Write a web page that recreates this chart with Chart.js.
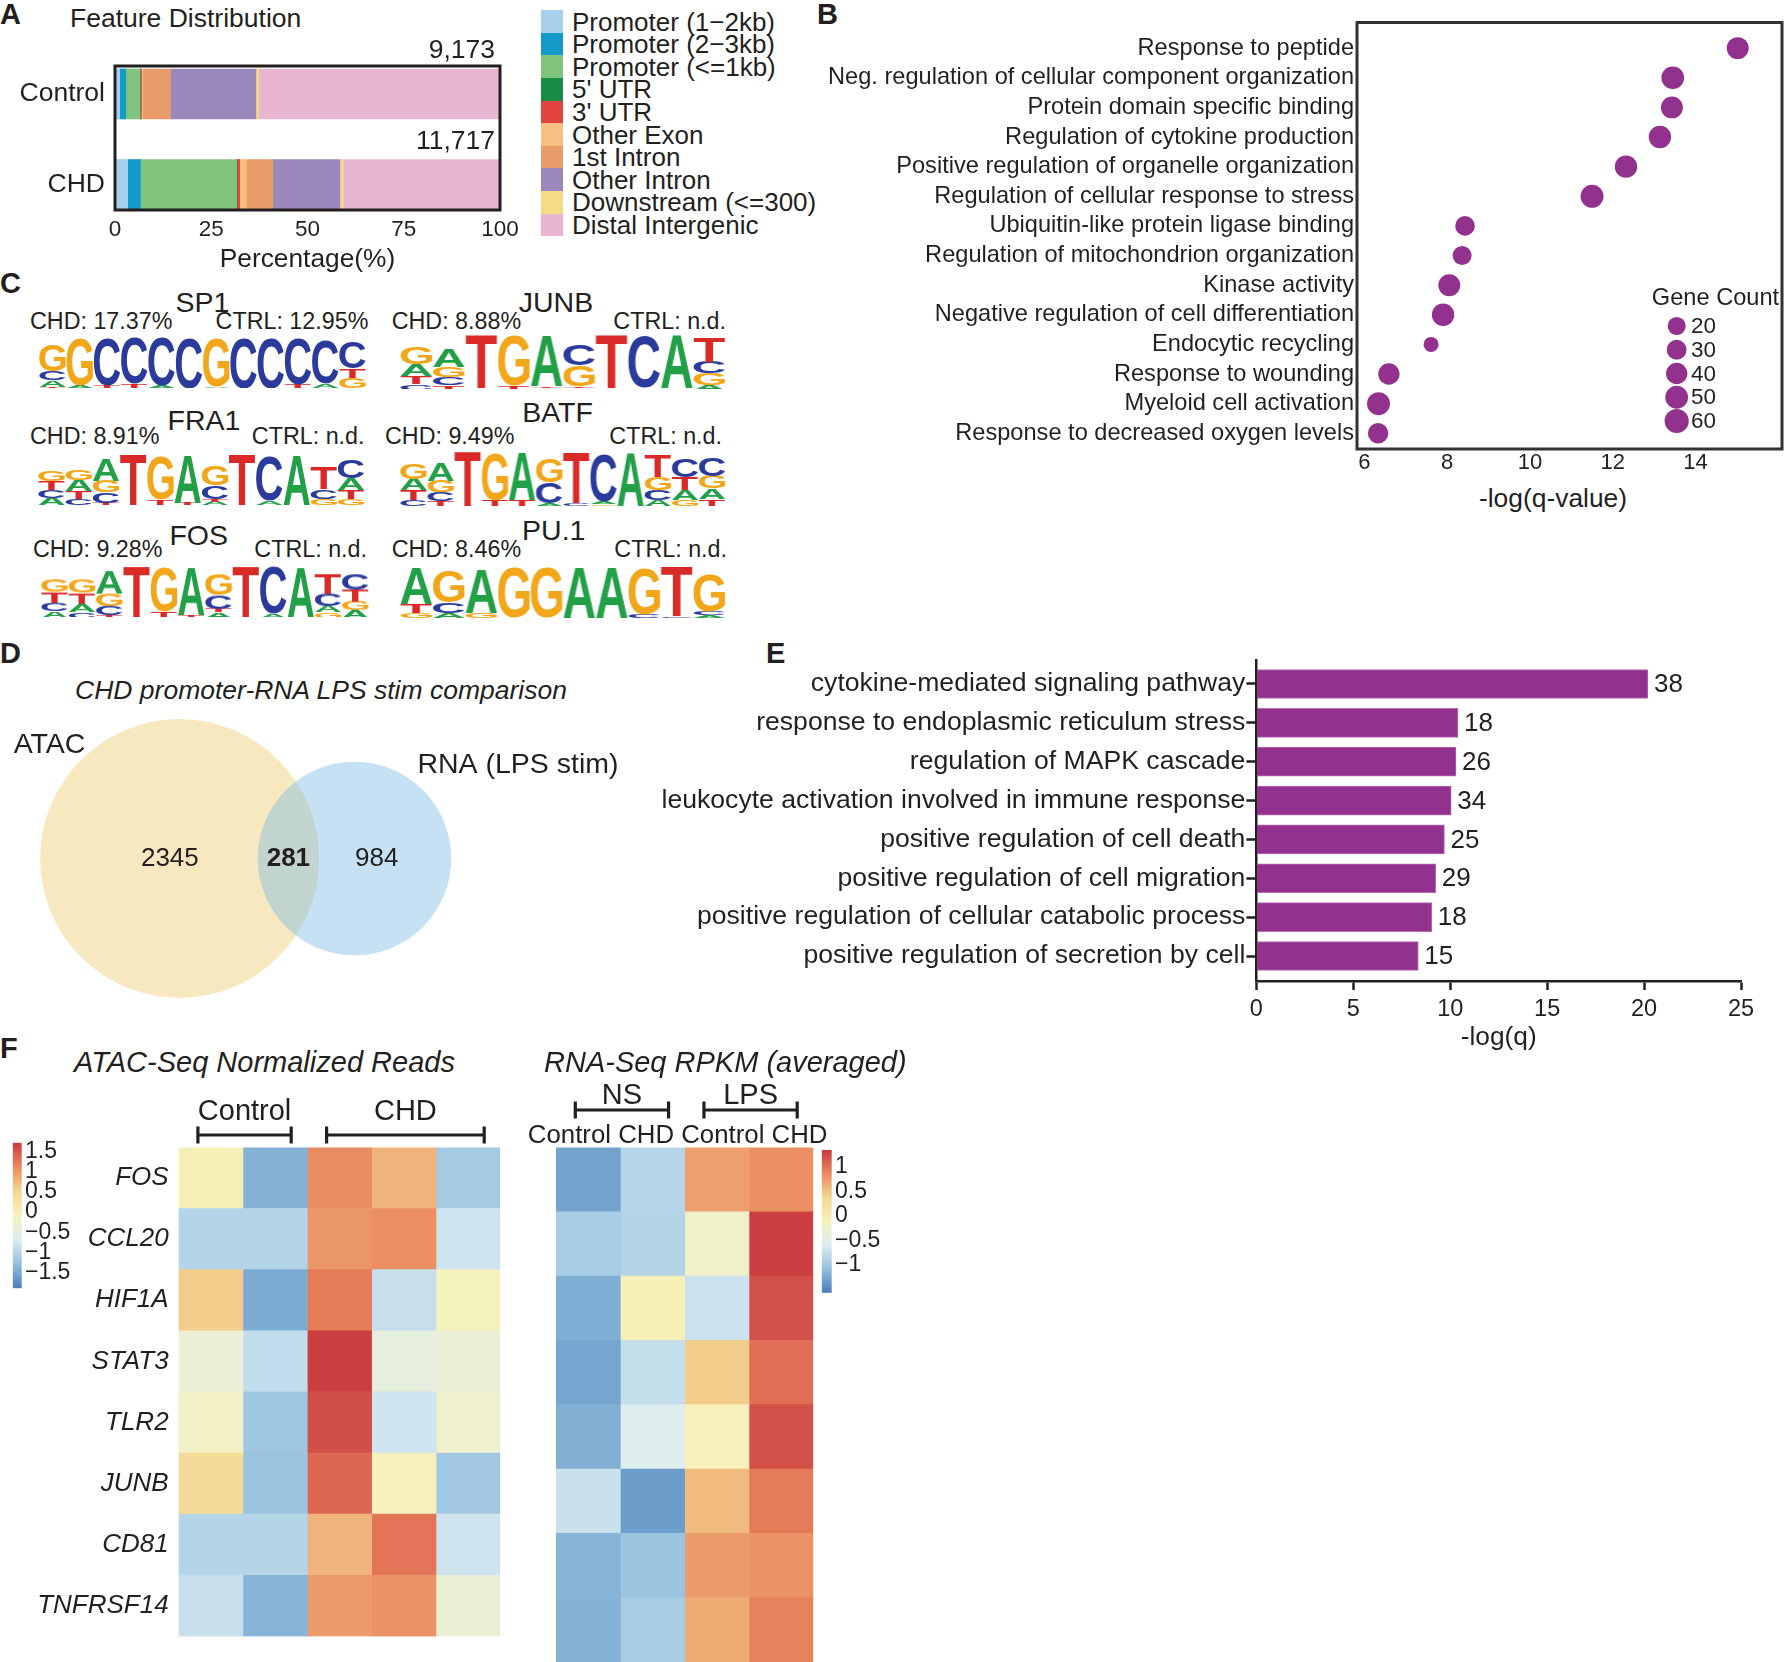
<!DOCTYPE html>
<html><head><meta charset="utf-8">
<script src="https://cdn.jsdelivr.net/npm/chart.js@4.4.1/dist/chart.umd.min.js"></script>
<style>
html,body{margin:0;padding:0;background:#fff;}
#root{position:relative;width:1784px;height:1662px;overflow:hidden;background:#fff;font-family:"Liberation Sans",Arial,Helvetica,sans-serif;color:#231f20;}
.t{position:absolute;white-space:nowrap;line-height:1;}
.box{position:absolute;}
.box canvas{display:block;}
.sw{position:absolute;}
</style></head>
<body><div id="root"></div>
<script>
// ================= DATA =================
// Panel A - feature distribution (percent of peaks)
const featureCategories = ['Promoter (1\u22122kb)','Promoter (2\u22123kb)','Promoter (<=1kb)',"5' UTR","3' UTR",'Other Exon','1st Intron','Other Intron','Downstream (<=300)','Distal Intergenic'];
const featureSamples = ['Control','CHD'];
const featureControl = [1.2,1.6,3.7,0.1,0.3,0.3,7.2,22.2,0.7,62.7];
const featureCHD = [3.3,3.3,25.0,0.1,0.7,1.7,6.9,17.4,0.9,40.7];
const featurePeakTotals = [9173,11717];
const featureTicks = [0,25,50,75,100];

// Panel B - GO enrichment dot plot
const goTerms = ['Response to peptide','Neg. regulation of cellular component organization','Protein domain specific binding','Regulation of cytokine production','Positive regulation of organelle organization','Regulation of cellular response to stress','Ubiquitin-like protein ligase binding','Regulation of mitochondrion organization','Kinase activity','Negative regulation of cell differentiation','Endocytic recycling','Response to wounding','Myeloid cell activation','Response to decreased oxygen levels'];
const goNegLogQ = [15.02,13.45,13.43,13.14,12.32,11.50,8.43,8.36,8.05,7.90,7.61,6.59,6.34,6.33];
const goGeneCount = [44,49,44,47,47,51,29,25,44,47,4,40,51,34];
const goTicks = [6,8,10,12,14];
const geneCountBreaks = [20,30,40,50,60];

// Panel C - motifs (letter stacks bottom->top, relative heights)
const motifNames = ['SP1','JUNB','FRA1','BATF','FOS','PU.1'];
const motifCHD = ['17.37%','8.88%','8.91%','9.49%','9.28%','8.46%'];
const motifCTRL = ['12.95%','n.d.','n.d.','n.d.','n.d.','n.d.'];
const logoSP1 = [
 [['T',0.03],['A',0.12],['C',0.16],['G',0.5]], [['A',0.04],['G',0.9]], [['T',0.05],['C',0.9]], [['T',0.08],['C',0.87]],
 [['A',0.04],['C',0.91]], [['C',0.95]], [['A',0.03],['G',0.92]], [['C',0.95]], [['C',0.95]], [['T',0.07],['C',0.86]],
 [['A',0.08],['C',0.82]], [['G',0.2],['T',0.17],['C',0.5]]];
const logoJUNB = [
 [['C',0.1],['T',0.14],['A',0.2],['G',0.3]], [['T',0.07],['C',0.14],['G',0.18],['A',0.32]], [['A',0.02],['T',0.93]],
 [['T',0.06],['G',0.86]], [['C',0.03],['T',0.03],['A',0.88]], [['A',0.03],['T',0.03],['G',0.36],['C',0.36]],
 [['A',0.03],['T',0.92]], [['A',0.03],['C',0.9]], [['C',0.02],['A',0.92]], [['A',0.08],['G',0.2],['C',0.2],['T',0.42]]];
const logoFRA1 = [
 [['A',0.14],['C',0.14],['T',0.18],['G',0.2]], [['C',0.12],['T',0.14],['A',0.22],['G',0.2]], [['T',0.04],['C',0.2],['G',0.22],['A',0.42]],
 [['T',0.95]], [['T',0.1],['G',0.82]], [['T',0.04],['A',0.9]], [['A',0.07],['T',0.05],['C',0.25],['G',0.38]], [['T',0.95]],
 [['A',0.08],['C',0.85]], [['A',0.93]], [['G',0.12],['C',0.18],['T',0.4]], [['G',0.12],['T',0.17],['A',0.22],['C',0.35]]];
const logoBATF = [
 [['C',0.1],['T',0.17],['A',0.2],['G',0.28]], [['T',0.08],['C',0.15],['G',0.2],['A',0.32]], [['T',0.95]], [['T',0.1],['G',0.82]],
 [['T',0.1],['A',0.82]], [['A',0.05],['C',0.35],['G',0.4]], [['C',0.05],['T',0.88]], [['G',0.03],['A',0.05],['C',0.82]],
 [['A',0.92]], [['A',0.1],['C',0.18],['G',0.22],['T',0.38]], [['G',0.1],['A',0.18],['T',0.22],['C',0.32]], [['T',0.12],['A',0.18],['G',0.22],['C',0.32]]];
const logoFOS = [
 [['A',0.12],['C',0.15],['T',0.2],['G',0.22]], [['C',0.1],['A',0.15],['T',0.2],['G',0.25]], [['T',0.05],['C',0.17],['G',0.22],['A',0.4]],
 [['T',0.95]], [['T',0.12],['G',0.8]], [['T',0.05],['A',0.88]], [['A',0.1],['T',0.06],['C',0.25],['G',0.38]], [['T',0.95]],
 [['A',0.07],['C',0.86]], [['A',0.92]], [['G',0.1],['A',0.12],['C',0.22],['T',0.35]], [['A',0.14],['G',0.16],['T',0.22],['C',0.3]]];
const logoPU1 = [
 [['G',0.1],['T',0.17],['A',0.68]], [['A',0.1],['C',0.2],['G',0.6]], [['G',0.1],['A',0.82]], [['G',0.95]], [['G',0.95]],
 [['A',0.95]], [['A',0.95]], [['C',0.06],['G',0.88]], [['C',0.03],['T',0.92]], [['A',0.05],['C',0.08],['G',0.7]]];

// Panel D - Venn
const vennSets = ['ATAC','RNA (LPS stim)'];
const vennOnly = [2345, 984];
const vennShared = 281;

// Panel E - enrichment bars
const enrichTerms = ['cytokine-mediated signaling pathway','response to endoplasmic reticulum stress','regulation of MAPK cascade','leukocyte activation involved in immune response','positive regulation of cell death','positive regulation of cell migration','positive regulation of cellular catabolic process','positive regulation of secretion by cell'];
const enrichNegLogQ = [20.2,10.4,10.3,10.05,9.7,9.25,9.05,8.35];
const enrichCounts = [38,18,26,34,25,29,18,15];
const enrichTicks = [0,5,10,15,20,25];

// Panel F - heatmaps (row z-scores)
const heatGenes = ['FOS','CCL20','HIF1A','STAT3','TLR2','JUNB','CD81','TNFRSF14'];
const atacControl1 = [0.0,-1.02,0.6,-0.37,-0.18,0.44,-1.02,-0.86];
const atacControl2 = [-1.41,-1.02,-1.47,-0.91,-1.19,-1.23,-1.02,-1.39];
const atacCHD1 = [1.1,1.02,1.22,1.67,1.55,1.37,0.8,0.99];
const atacCHD2 = [0.8,1.09,-0.86,-0.45,-0.8,-0.07,1.27,1.05];
const atacCHD3 = [-1.14,-0.81,-0.1,-0.37,-0.28,-1.16,-0.81,-0.35];
const atacGroupLabels = ['Control','CHD'];
const atacGroupSpans = [[0,1],[2,4]];
const atacScaleRange = [-1.89,1.72];
const atacLegendTicks = [-1.5,-1,-0.5,0,0.5,1,1.5];
const rnaNSControl = [-1.28,-0.94,-1.21,-1.27,-1.19,-0.72,-1.16,-1.17];
const rnaNSCHD = [-0.845,-0.86,-0.05,-0.75,-0.55,-1.33,-1.03,-0.94];
const rnaLPSControl = [0.72,-0.22,-0.7,0.45,-0.08,0.55,0.75,0.64];
const rnaLPSCHD = [0.82,1.3,1.2,1.01,1.2,0.94,0.8,0.9];
const rnaGroupLabels = ['NS','LPS'];
const rnaGroupSpans = [[0,1],[2,3]];
const rnaSampleLabels = ['Control','CHD','Control','CHD'];
const rnaScaleRange = [-1.56,1.34];
const rnaLegendTicks = [-1,-0.5,0,0.5,1];

// ================= STYLE =================
const INK = '#231f20';
const PURPLE = '#93318e';
const FONT = '"Liberation Sans", Arial, Helvetica, sans-serif';
const featureColors = ['#a6d0ec','#139ac8','#80c47e','#188c45','#e2433f','#f7bf80','#e99c69','#9a88bc','#f5db86','#e9b6d1'];
const letterColors = {A:'#21a047', C:'#2b3b9c', G:'#f2a71b', T:'#da2a27'};
const heatPalette = ['#4a7db9','#93c0de','#dcecf2','#f6f2bd','#f5d893','#ea8a5f','#c9383e'];

Chart.defaults.font.family = FONT;
Chart.defaults.color = INK;
Chart.defaults.animation = false;
Chart.defaults.responsive = true;
Chart.defaults.maintainAspectRatio = false;
Chart.defaults.events = [];
Chart.defaults.plugins.legend.display = false;
Chart.defaults.plugins.tooltip.enabled = false;

const root = document.getElementById('root');
function txt(s, x, y, size, align, extra) {
  const d = document.createElement('div');
  d.className = 't'; d.textContent = s;
  const tx = align === 'right' ? '-100%' : align === 'center' ? '-50%' : '0';
  d.style.cssText = `left:${x}px;top:${y}px;font-size:${size}px;transform:translate(${tx},-50%);${extra || ''}`;
  root.appendChild(d); return d;
}
function box(left, top, w, h) {
  const d = document.createElement('div');
  d.className = 'box';
  d.style.cssText = `left:${left}px;top:${top}px;width:${w}px;height:${h}px;`;
  const c = document.createElement('canvas');
  d.appendChild(c); root.appendChild(d); return c;
}
// fixed axis sizes (no automatic label padding)
const fixW = w => s => { s.width = w; s.paddingTop = 0; s.paddingBottom = 0; };
const fixH = h => s => { s.height = h; s.paddingLeft = 0; s.paddingRight = 0; };
function hexRgb(h) { const n = parseInt(h.slice(1), 16); return [(n >> 16) & 255, (n >> 8) & 255, n & 255]; }
function heatColor(v, range) {
  let t = (v - range[0]) / (range[1] - range[0]);
  t = Math.max(0, Math.min(1, t));
  const p = t * (heatPalette.length - 1), i = Math.min(Math.floor(p), heatPalette.length - 2), f = p - i;
  const a = hexRgb(heatPalette[i]), b = hexRgb(heatPalette[i + 1]);
  return `rgb(${a.map((c, k) => Math.round(c + (b[k] - c) * f)).join(',')})`;
}
const minus = v => (v < 0 ? '\u2212' + Math.abs(v) : String(v));
const sizeScale = c => Math.sqrt(50 + 1.6 * c);

// ================= PLUGINS =================
const framePlugin = { id: 'frame', afterDraw(chart, a, o) {
  const { ctx, chartArea: r } = chart; ctx.save(); ctx.strokeStyle = o.color || INK; ctx.lineWidth = o.width || 3;
  ctx.strokeRect(r.left, r.top, r.right - r.left, r.bottom - r.top); ctx.restore(); } };

const totalsPlugin = { id: 'totals', afterDatasetsDraw(chart) {
  const { ctx } = chart; const xs = chart.scales.x; const last = chart.getDatasetMeta(chart.data.datasets.length - 1);
  ctx.save(); ctx.font = `26.5px ${FONT}`; ctx.fillStyle = INK; ctx.textAlign = 'right'; ctx.textBaseline = 'middle';
  last.data.forEach((bar, i) => {
    const top = bar.y - bar.height / 2;
    ctx.fillText(featurePeakTotals[i].toLocaleString('en-US'), xs.getPixelForValue(100) - 5, top - 18);
  });
  ctx.restore(); } };

const geneCountLegend = { id: 'gcLegend', afterDraw(chart) {
  const { ctx, chartArea: a } = chart; const W = a.right - a.left, H = a.bottom - a.top;
  ctx.save(); ctx.fillStyle = INK; ctx.font = `23.6px ${FONT}`; ctx.textAlign = 'center'; ctx.textBaseline = 'middle';
  ctx.fillText('Gene Count', a.left + 0.8435 * W, a.top + 0.6467 * H);
  ctx.font = `22.5px ${FONT}`; ctx.textAlign = 'left';
  geneCountBreaks.forEach((b, i) => {
    const cy = a.top + 0.7116 * H + i * 23.75, cx = a.left + 0.7522 * W;
    ctx.fillStyle = PURPLE; ctx.beginPath(); ctx.arc(cx, cy, sizeScale(b), 0, Math.PI * 2); ctx.fill();
    ctx.fillStyle = INK; ctx.fillText(String(b), a.left + 0.7859 * W, cy + 1);
  });
  ctx.restore(); } };

const logoPlugin = { id: 'logo', afterDatasetsDraw(chart) {
  const c = chart.ctx;
  chart.data.datasets.forEach((ds, di) => {
    chart.getDatasetMeta(di).data.forEach((bar, i) => {
      const L = ds.letters[i]; if (!L) return;
      const p = bar.getProps(['x', 'y', 'base', 'width'], true);
      const h = Math.abs(p.base - p.y); if (h < 0.4) return;
      const w = p.width * 0.97, x0 = p.x - w / 2, y0 = Math.min(p.y, p.base);
      c.save(); c.font = `bold 100px ${FONT}`;
      const m = c.measureText(L);
      const gw = m.actualBoundingBoxLeft + m.actualBoundingBoxRight, gh = m.actualBoundingBoxAscent + m.actualBoundingBoxDescent;
      c.translate(x0, y0); c.scale(w / gw, h / gh);
      c.fillStyle = letterColors[L]; c.textAlign = 'left'; c.textBaseline = 'alphabetic';
      c.fillText(L, m.actualBoundingBoxLeft, m.actualBoundingBoxAscent);
      c.restore();
    });
  }); } };

const vennLabels = { id: 'vennLabels', afterDatasetsDraw(chart) {
  const { ctx } = chart;
  const a = chart.getDatasetMeta(1).data[0], b = chart.getDatasetMeta(0).data[0];
  const R1 = a.options.radius, R2 = b.options.radius;
  ctx.save(); ctx.fillStyle = INK; ctx.textBaseline = 'middle'; ctx.font = `28.5px ${FONT}`;
  ctx.textAlign = 'left';
  ctx.fillText(vennSets[0], a.x - 1.19 * R1, a.y - 0.81 * R1);
  ctx.fillText(vennSets[1], b.x + 0.65 * R2, b.y - 0.96 * R2);
  ctx.font = `26px ${FONT}`;
  ctx.textAlign = 'center';
  ctx.fillText(String(vennOnly[0]), a.x - 0.07 * R1, a.y);
  ctx.fillText(String(vennOnly[1]), b.x + 0.23 * R2, b.y);
  ctx.font = `bold 26px ${FONT}`;
  ctx.fillText(String(vennShared), ((b.x - R2) + (a.x + R1)) / 2, a.y);
  ctx.restore(); } };

const barValueLabels = { id: 'barValues', afterDatasetsDraw(chart) {
  const { ctx } = chart; ctx.save(); ctx.fillStyle = INK; ctx.font = `26px ${FONT}`; ctx.textAlign = 'left'; ctx.textBaseline = 'middle';
  chart.getDatasetMeta(0).data.forEach((bar, i) => ctx.fillText(String(enrichCounts[i]), bar.x + 6, bar.y + 1));
  ctx.restore(); } };

const heatHeader = { id: 'heatHeader', afterDraw(chart, args, o) {
  if (!o || !o.labels) return;
  const { ctx, chartArea: a } = chart; const xs = chart.scales.x;
  ctx.save(); ctx.strokeStyle = INK; ctx.fillStyle = INK; ctx.lineWidth = 3.2;
  o.labels.forEach((lab, g) => {
    const [from, to] = o.spans[g];
    const x0 = xs.getPixelForValue(from + 0.3), x1 = xs.getPixelForValue(to + 0.75), yb = a.top + o.bracket;
    ctx.beginPath(); ctx.moveTo(x0, yb); ctx.lineTo(x1, yb);
    ctx.moveTo(x0, yb - o.tick); ctx.lineTo(x0, yb + o.tick);
    ctx.moveTo(x1, yb - o.tick); ctx.lineTo(x1, yb + o.tick); ctx.stroke();
    ctx.font = `29px ${FONT}`; ctx.textAlign = 'center'; ctx.textBaseline = 'middle';
    ctx.fillText(lab, (x0 + x1) / 2, a.top + o.text);
  });
  if (o.sub) {
    ctx.font = `25.8px ${FONT}`; ctx.textAlign = 'center'; ctx.textBaseline = 'middle';
    ctx.fillText(o.sub.join(' '), (a.left + a.right) / 2 - 7, a.top + o.subOffset);
  }
  ctx.restore(); } };

// ================= PANEL LETTERS =================
[['A',0,14],['B',817,14],['C',0,283],['D',0,653],['E',766,653],['F',0,1048]].forEach(([s,x,y]) => txt(s, x, y, 29, 'left', 'font-weight:bold;'));

// ================= PANEL A =================
txt('Feature Distribution', 70, 18, 26.5);
featureCategories.forEach((cat, k) => {
  const sw = document.createElement('div'); sw.className = 'sw';
  sw.style.cssText = `left:541px;top:${10.2 + k * 22.6}px;width:22px;height:22.6px;background:${featureColors[k]};`;
  root.appendChild(sw);
  txt(cat, 572, 21.5 + k * 22.6, 26);
});
const featureBySample = [featureControl, featureCHD];
new Chart(box(0, 20, 540, 260), {
  type: 'bar',
  data: { datasets: featureCategories.map((cat, k) => ({
    label: cat,
    data: featureSamples.map((s, i) => {
      const vals = featureBySample[i];
      const start = vals.slice(0, k).reduce((p, q) => p + q, 0);
      return { x: [start, start + vals[k]], y: i };
    }),
    backgroundColor: featureColors[k], borderWidth: 0, barThickness: 50, grouped: false })) },
  options: {
    indexAxis: 'y',
    layout: { padding: { top: 46, right: 40, left: 0, bottom: 0 } },
    scales: {
      x: { type: 'linear', min: 0, max: 100,
        afterBuildTicks: s => { s.ticks = featureTicks.map(v => ({ value: v })); },
        grid: { display: false, drawTicks: false }, border: { display: false },
        ticks: { font: { size: 22.5 }, padding: 6, color: INK, maxRotation: 0, autoSkip: false },
        title: { display: true, text: 'Percentage(%)', font: { size: 26.3 }, color: INK, padding: { top: 0, bottom: 4 } },
        afterFit: fixH(70) },
      y: { type: 'linear', offset: false, reverse: true, min: -0.309, max: 1.282,
        afterBuildTicks: s => { s.ticks = featureSamples.map((_, i) => ({ value: i })); },
        grid: { display: false, drawTicks: false }, border: { display: false },
        ticks: { callback: v => featureSamples[v], font: { size: 26.5 }, padding: 10, color: INK, autoSkip: false },
        afterFit: fixW(115) } },
    plugins: { frame: { width: 3 } } },
  plugins: [totalsPlugin, framePlugin]
});

// ================= PANEL B =================
txt('-log(q-value)', 1553, 498, 26.4, 'center');
new Chart(box(820, 10, 964, 510), {
  type: 'bubble',
  data: { datasets: [{ data: goTerms.map((t, i) => ({ x: goNegLogQ[i], y: i, count: goGeneCount[i] })),
    backgroundColor: PURPLE, borderWidth: 0, radius: ctx => sizeScale(ctx.raw.count) }] },
  options: {
    layout: { padding: { top: 12.5, right: 2, left: 0, bottom: 0 }, autoPadding: false },
    scales: {
      x: { type: 'linear', min: 5.82, max: 16.09,
        afterBuildTicks: s => { s.ticks = goTicks.map(v => ({ value: v })); },
        grid: { display: false, drawTicks: false }, border: { display: false },
        ticks: { font: { size: 22 }, padding: 1, color: INK, autoSkip: false, maxRotation: 0 },
        afterFit: fixH(71) },
      y: { type: 'linear', reverse: true, min: -0.865, max: 13.53,
        afterBuildTicks: s => { s.ticks = goTerms.map((_, i) => ({ value: i })); },
        grid: { display: false, drawTicks: false }, border: { display: false },
        ticks: { callback: v => goTerms[v], font: { size: 23.6 }, padding: 3, color: INK, autoSkip: false },
        afterFit: fixW(537) } },
    plugins: { frame: { width: 3, color: '#333' } } },
  plugins: [framePlugin, geneCountLegend]
});

// ================= PANEL C =================
const motifLogos = [logoSP1, logoJUNB, logoFRA1, logoBATF, logoFOS, logoPU1];
// layout: [logoLeft, logoTop, logoW, logoH, titleCx, titleCy, chdLeft, ctrlRight, captionCy]
const logoLayout = [
  [38.8, 335, 327.2, 53.3, 202.5, 301.7, 30, 368.4, 321.7],
  [400, 331.7, 324.7, 57.6, 556, 301.7, 391.7, 726, 321.7],
  [37.8, 451.7, 326.7, 53.3, 204, 420, 30, 364.5, 436.7],
  [400, 448, 324.7, 58, 557.5, 411.7, 385, 722, 436.7],
  [41, 563, 328, 53.7, 198.7, 535, 33, 367, 550],
  [400, 565, 324.7, 53, 553.8, 530, 391.7, 727, 550]
];
motifLogos.forEach((positions, m) => {
  const [lx, ly, lw, lh, tcx, tcy, cl, cr, ccy] = logoLayout[m];
  txt(motifNames[m], tcx, tcy, 28.5, 'center');
  txt('CHD: ' + motifCHD[m], cl, ccy, 23.3);
  txt('CTRL: ' + motifCTRL[m], cr, ccy, 23.3, 'right');
  const depth = Math.max(...positions.map(p => p.length));
  const datasets = [];
  for (let k = 0; k < depth; k++) {
    datasets.push({
      data: positions.map(p => (p[k] ? p[k][1] : 0)),
      letters: positions.map(p => (p[k] ? p[k][0] : '')),
      backgroundColor: 'rgba(0,0,0,0)', borderWidth: 0, barPercentage: 1, categoryPercentage: 1 });
  }
  new Chart(box(lx, ly, lw, lh), {
    type: 'bar',
    data: { labels: positions.map((_, i) => String(i + 1)), datasets },
    options: { layout: { padding: 0 },
      scales: { x: { display: false, stacked: true }, y: { display: false, stacked: true, min: 0, max: 1 } } },
    plugins: [logoPlugin]
  });
});

// ================= PANEL D =================
txt('CHD promoter-RNA LPS stim comparison', 321, 690, 26.5, 'center', 'font-style:italic;');
function lensArea(r1, r2, d) {
  if (d >= r1 + r2) return 0;
  if (d <= Math.abs(r1 - r2)) return Math.PI * Math.min(r1, r2) ** 2;
  const a1 = Math.acos((d * d + r1 * r1 - r2 * r2) / (2 * d * r1));
  const a2 = Math.acos((d * d + r2 * r2 - r1 * r1) / (2 * d * r2));
  return r1 * r1 * (a1 - Math.sin(2 * a1) / 2) + r2 * r2 * (a2 - Math.sin(2 * a2) / 2);
}
// area-proportional circles: radius = sqrt(set size), centre distance solved from the shared count
const vennR1 = Math.sqrt(vennOnly[0] + vennShared), vennR2 = Math.sqrt(vennOnly[1] + vennShared);
let vlo = Math.abs(vennR1 - vennR2), vhi = vennR1 + vennR2;
for (let i = 0; i < 80; i++) { const mid = (vlo + vhi) / 2; if (lensArea(vennR1, vennR2, mid) > Math.PI * vennShared) vlo = mid; else vhi = mid; }
const vennDist = (vlo + vhi) / 2;
const vennW = 660, vennH = 320;
const vennXRange = [-66, 176.5], vennYRange = [-59.3, 58.2];
const vennPxPerUnit = vennW / (vennXRange[1] - vennXRange[0]);
new Chart(box(0, 700, vennW, vennH), {
  type: 'bubble',
  data: { datasets: [
    { label: vennSets[1], data: [{ x: vennDist, y: 0, r: vennR2 * vennPxPerUnit }], backgroundColor: 'rgba(117,184,226,0.42)', borderWidth: 0, order: 0, clip: false },
    { label: vennSets[0], data: [{ x: 0, y: 0, r: vennR1 * vennPxPerUnit }], backgroundColor: '#f8e8bf', borderWidth: 0, order: 1, clip: false } ] },
  options: { layout: { padding: 0, autoPadding: false },
    scales: { x: { display: false, min: vennXRange[0], max: vennXRange[1] }, y: { display: false, min: vennYRange[0], max: vennYRange[1] } } },
  plugins: [vennLabels]
});

// ================= PANEL E =================
new Chart(box(640, 650, 1144, 410), {
  type: 'bar',
  data: { datasets: [{ data: enrichTerms.map((t, i) => ({ x: enrichNegLogQ[i], y: i })),
    backgroundColor: PURPLE, borderColor: '#b46cb2', borderWidth: 1, barThickness: 29 }] },
  options: {
    indexAxis: 'y',
    layout: { padding: { top: 10, right: 43, left: 0, bottom: 0 } },
    scales: {
      x: { type: 'linear', min: 0, max: 25,
        afterBuildTicks: s => { s.ticks = enrichTicks.map(v => ({ value: v })); },
        grid: { display: true, drawOnChartArea: false, drawTicks: true, tickLength: 9, tickWidth: 2.5, tickColor: INK },
        border: { display: true, width: 2.5, color: INK },
        ticks: { font: { size: 23.5 }, padding: 5, color: INK, autoSkip: false, maxRotation: 0 },
        title: { display: true, text: '-log(q)', font: { size: 26.3 }, color: INK, padding: { top: 0, bottom: 6 } },
        afterFit: fixH(79) },
      y: { type: 'linear', offset: false, reverse: true, min: -0.617, max: 7.643,
        afterBuildTicks: s => { s.ticks = enrichTerms.map((_, i) => ({ value: i })); },
        grid: { display: true, drawOnChartArea: false, drawTicks: true, tickLength: 10, tickWidth: 2.5, tickColor: INK, offset: false },
        border: { display: true, width: 2.5, color: INK },
        ticks: { callback: v => enrichTerms[v], font: { size: 26.6 }, padding: 1, color: INK, autoSkip: false },
        afterFit: fixW(616.4) } } },
  plugins: [barValueLabels]
});

// ================= PANEL F =================
txt('ATAC-Seq Normalized Reads', 74, 1062, 29, 'left', 'font-style:italic;');
txt('RNA-Seq RPKM (averaged)', 544, 1062, 29, 'left', 'font-style:italic;');
function makeHeat(canvas, columns, range, showLabels, padding, yWidth, header) {
  new Chart(canvas, {
    type: 'bar',
    data: { labels: heatGenes, datasets: columns.map(col => ({
      data: col.map(() => 1), backgroundColor: col.map(v => heatColor(v, range)),
      borderWidth: 0, barPercentage: 1, categoryPercentage: 1 })) },
    options: { indexAxis: 'y', layout: { padding },
      scales: {
        x: { stacked: true, display: false, min: 0, max: columns.length },
        y: { stacked: true, display: showLabels, grid: { display: false, drawTicks: false }, border: { display: false },
          ticks: { font: { size: 26, style: 'italic' }, padding: 10, color: INK, autoSkip: false },
          afterFit: s => { s.width = yWidth; } } },
      plugins: { heatHeader: header } },
    plugins: [heatHeader]
  });
}
makeHeat(box(0, 1075, 510, 587), [atacControl1, atacControl2, atacCHD1, atacCHD2, atacCHD3], atacScaleRange, true,
  { top: 72.4, right: 9.7, left: 0, bottom: 0 }, 178.6,
  { labels: atacGroupLabels, spans: atacGroupSpans, bracket: -12.4, text: -35.4, tick: 8.6 });
makeHeat(box(500, 1075, 330, 587), [rnaNSControl, rnaNSCHD, rnaLPSControl, rnaLPSCHD], rnaScaleRange, false,
  { top: 72.4, right: 16.7, left: 56, bottom: 0 }, 0,
  { labels: rnaGroupLabels, spans: rnaGroupSpans, bracket: -37.4, text: -51.4, tick: 8.5, sub: rnaSampleLabels, subOffset: -11.4 });

function makeColorbar(canvas, range, ticks, padding, axisWidth) {
  new Chart(canvas, {
    type: 'bar',
    data: { labels: [''], datasets: [{ data: [range], borderWidth: 0, barPercentage: 1, categoryPercentage: 1,
      backgroundColor: ctx => {
        const ch = ctx.chart, y = ch.scales.y;
        if (!ch.chartArea || !y) return heatPalette[3];
        const y0 = y.getPixelForValue(range[0]), y1 = y.getPixelForValue(range[1]);
        if (!Number.isFinite(y0) || !Number.isFinite(y1) || y0 === y1) return heatPalette[3];
        const g = ch.ctx.createLinearGradient(0, y0, 0, y1);
        heatPalette.forEach((c, i) => g.addColorStop(i / (heatPalette.length - 1), c));
        return g; } }] },
    options: { layout: { padding },
      scales: {
        x: { display: false },
        y: { position: 'right', min: range[0], max: range[1],
          afterBuildTicks: s => { s.ticks = ticks.map(v => ({ value: v })); },
          grid: { display: false, drawTicks: false }, border: { display: false },
          ticks: { callback: v => minus(v), font: { size: 23 }, padding: 3.3, color: INK, autoSkip: false },
          afterFit: fixW(axisWidth) } } }
  });
}
makeColorbar(box(0, 1130, 90, 170), atacScaleRange, atacLegendTicks, { left: 12.7, top: 12.7, bottom: 11.7, right: 0 }, 68.3);
makeColorbar(box(800, 1135, 80, 170), rnaScaleRange, rnaLegendTicks, { left: 21.7, top: 15, bottom: 12.3, right: 0 }, 48.3);
</script></body></html>
